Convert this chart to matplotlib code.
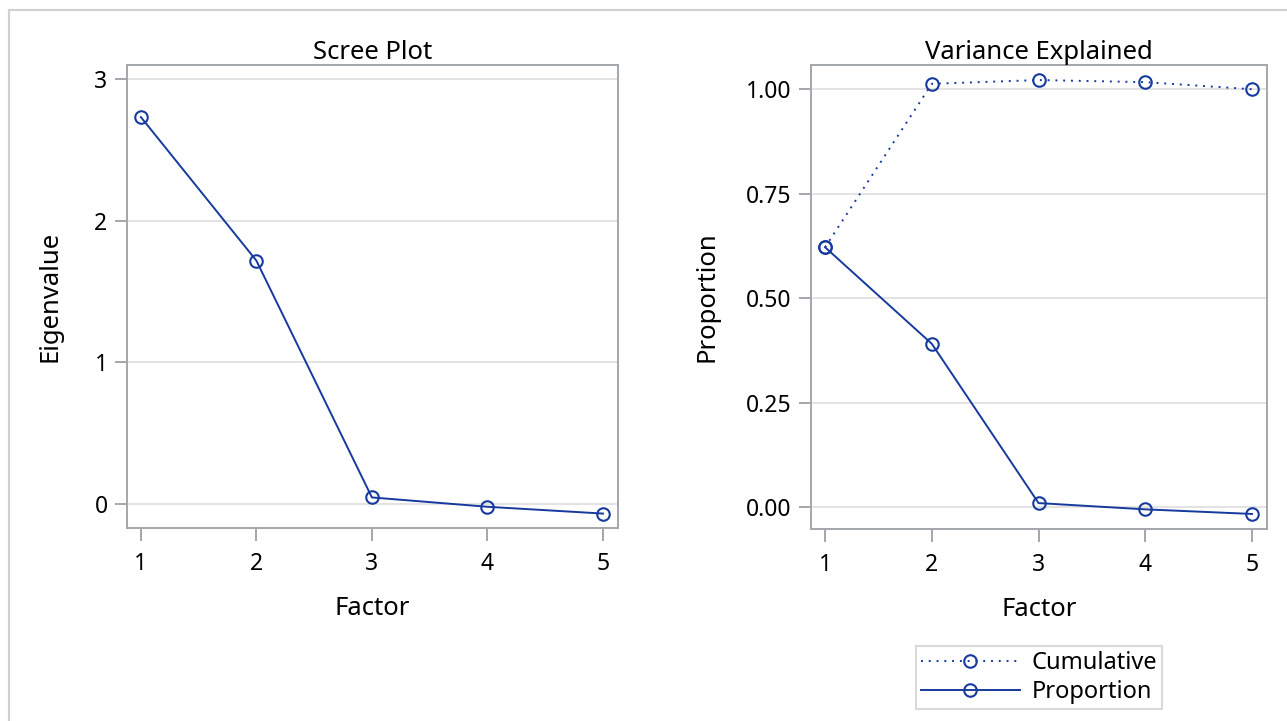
import matplotlib
matplotlib.use("Agg")
import matplotlib.pyplot as plt
from matplotlib.patches import Rectangle
from matplotlib.lines import Line2D

factors = [1, 2, 3, 4, 5]
eigenvalues = [2.732, 1.717, 0.043, -0.023, -0.071]
proportion = [0.622, 0.391, 0.010, -0.005, -0.016]
cumulative = [0.622, 1.013, 1.022, 1.017, 1.000]

left_yticks = [0, 1, 2, 3]
right_yticks = [0.0, 0.25, 0.5, 0.75, 1.0]
right_yticklabels = ["0.00", "0.25", "0.50", "0.75", "1.00"]

plt.rcParams['font.family'] = ['Noto Sans', 'DejaVu Sans']

LINE = '#163a9e'
SPINE = '#a3a7ab'
GRID = '#e3e3e3'

fig = plt.figure(figsize=(12.87, 7.21), dpi=100)
fig.patches.append(Rectangle((9/1287, -0.1), 1.2, 1 - 10/721 + 0.1,
                             transform=fig.transFigure, fill=False,
                             edgecolor='#d0d0d0', linewidth=1.5))

ax1 = fig.add_axes([127/1287, 1 - 528/721, (618 - 127)/1287, (528 - 65)/721])
ax2 = fig.add_axes([811/1287, 1 - 529/721, (1267 - 811)/1287, (529 - 65)/721])

def style(ax):
    for s in ax.spines.values():
        s.set_color(SPINE)
        s.set_linewidth(1.4)
    ax.tick_params(axis='both', direction='out', length=9, width=1.4,
                   color=SPINE, labelsize=16.5, labelcolor='black', pad=5)
    ax.tick_params(axis='x', pad=8)
    ax.grid(axis='y', color=GRID, linewidth=1.4)
    ax.set_axisbelow(True)
    ax.set_xticks(factors)
    ax.set_xlabel("Factor", fontsize=18.5, labelpad=15)

mk = dict(marker='o', markersize=9, markerfacecolor='none',
          markeredgecolor=LINE, markeredgewidth=1.5)

ax1.plot(factors, eigenvalues, color=LINE, linewidth=1.4, **mk)
ax1.set_xlim(0.88, 5.13)
ax1.set_ylim(-0.173, 3.10)
ax1.set_yticks(left_yticks)
style(ax1)
ax1.set_ylabel("Eigenvalue", fontsize=18.5, labelpad=23)
ax1.set_title("Scree Plot", fontsize=18.5, pad=4)

ax2.plot(factors, cumulative, color=LINE, linewidth=1.4, linestyle=(0, (1, 3)), **mk)
ax2.plot(factors, proportion, color=LINE, linewidth=1.4, **mk)
ax2.set_xlim(0.868, 5.14)
ax2.set_ylim(-0.052, 1.058)
ax2.set_yticks(right_yticks)
ax2.set_yticklabels(right_yticklabels)
style(ax2)
ax2.set_ylabel("Proportion", fontsize=18.5, labelpad=19)
ax2.set_title("Variance Explained", fontsize=18.5, pad=4)

handles = [
    Line2D([], [], color=LINE, linewidth=1.4, linestyle=(0, (1, 3)), **mk),
    Line2D([], [], color=LINE, linewidth=1.4, **mk),
]
leg = fig.legend(handles, ["Cumulative", "Proportion"],
                 loc='center', bbox_to_anchor=(1039/1287, 1 - 677.5/721),
                 fontsize=17, frameon=True, fancybox=False, handlelength=4.2,
                 handletextpad=0.5, borderpad=0.2, labelspacing=0.2,
                 borderaxespad=0)
leg.get_frame().set_edgecolor('#d0d0d0')
leg.get_frame().set_linewidth(1.5)

fig.savefig("out.png", dpi=100)
